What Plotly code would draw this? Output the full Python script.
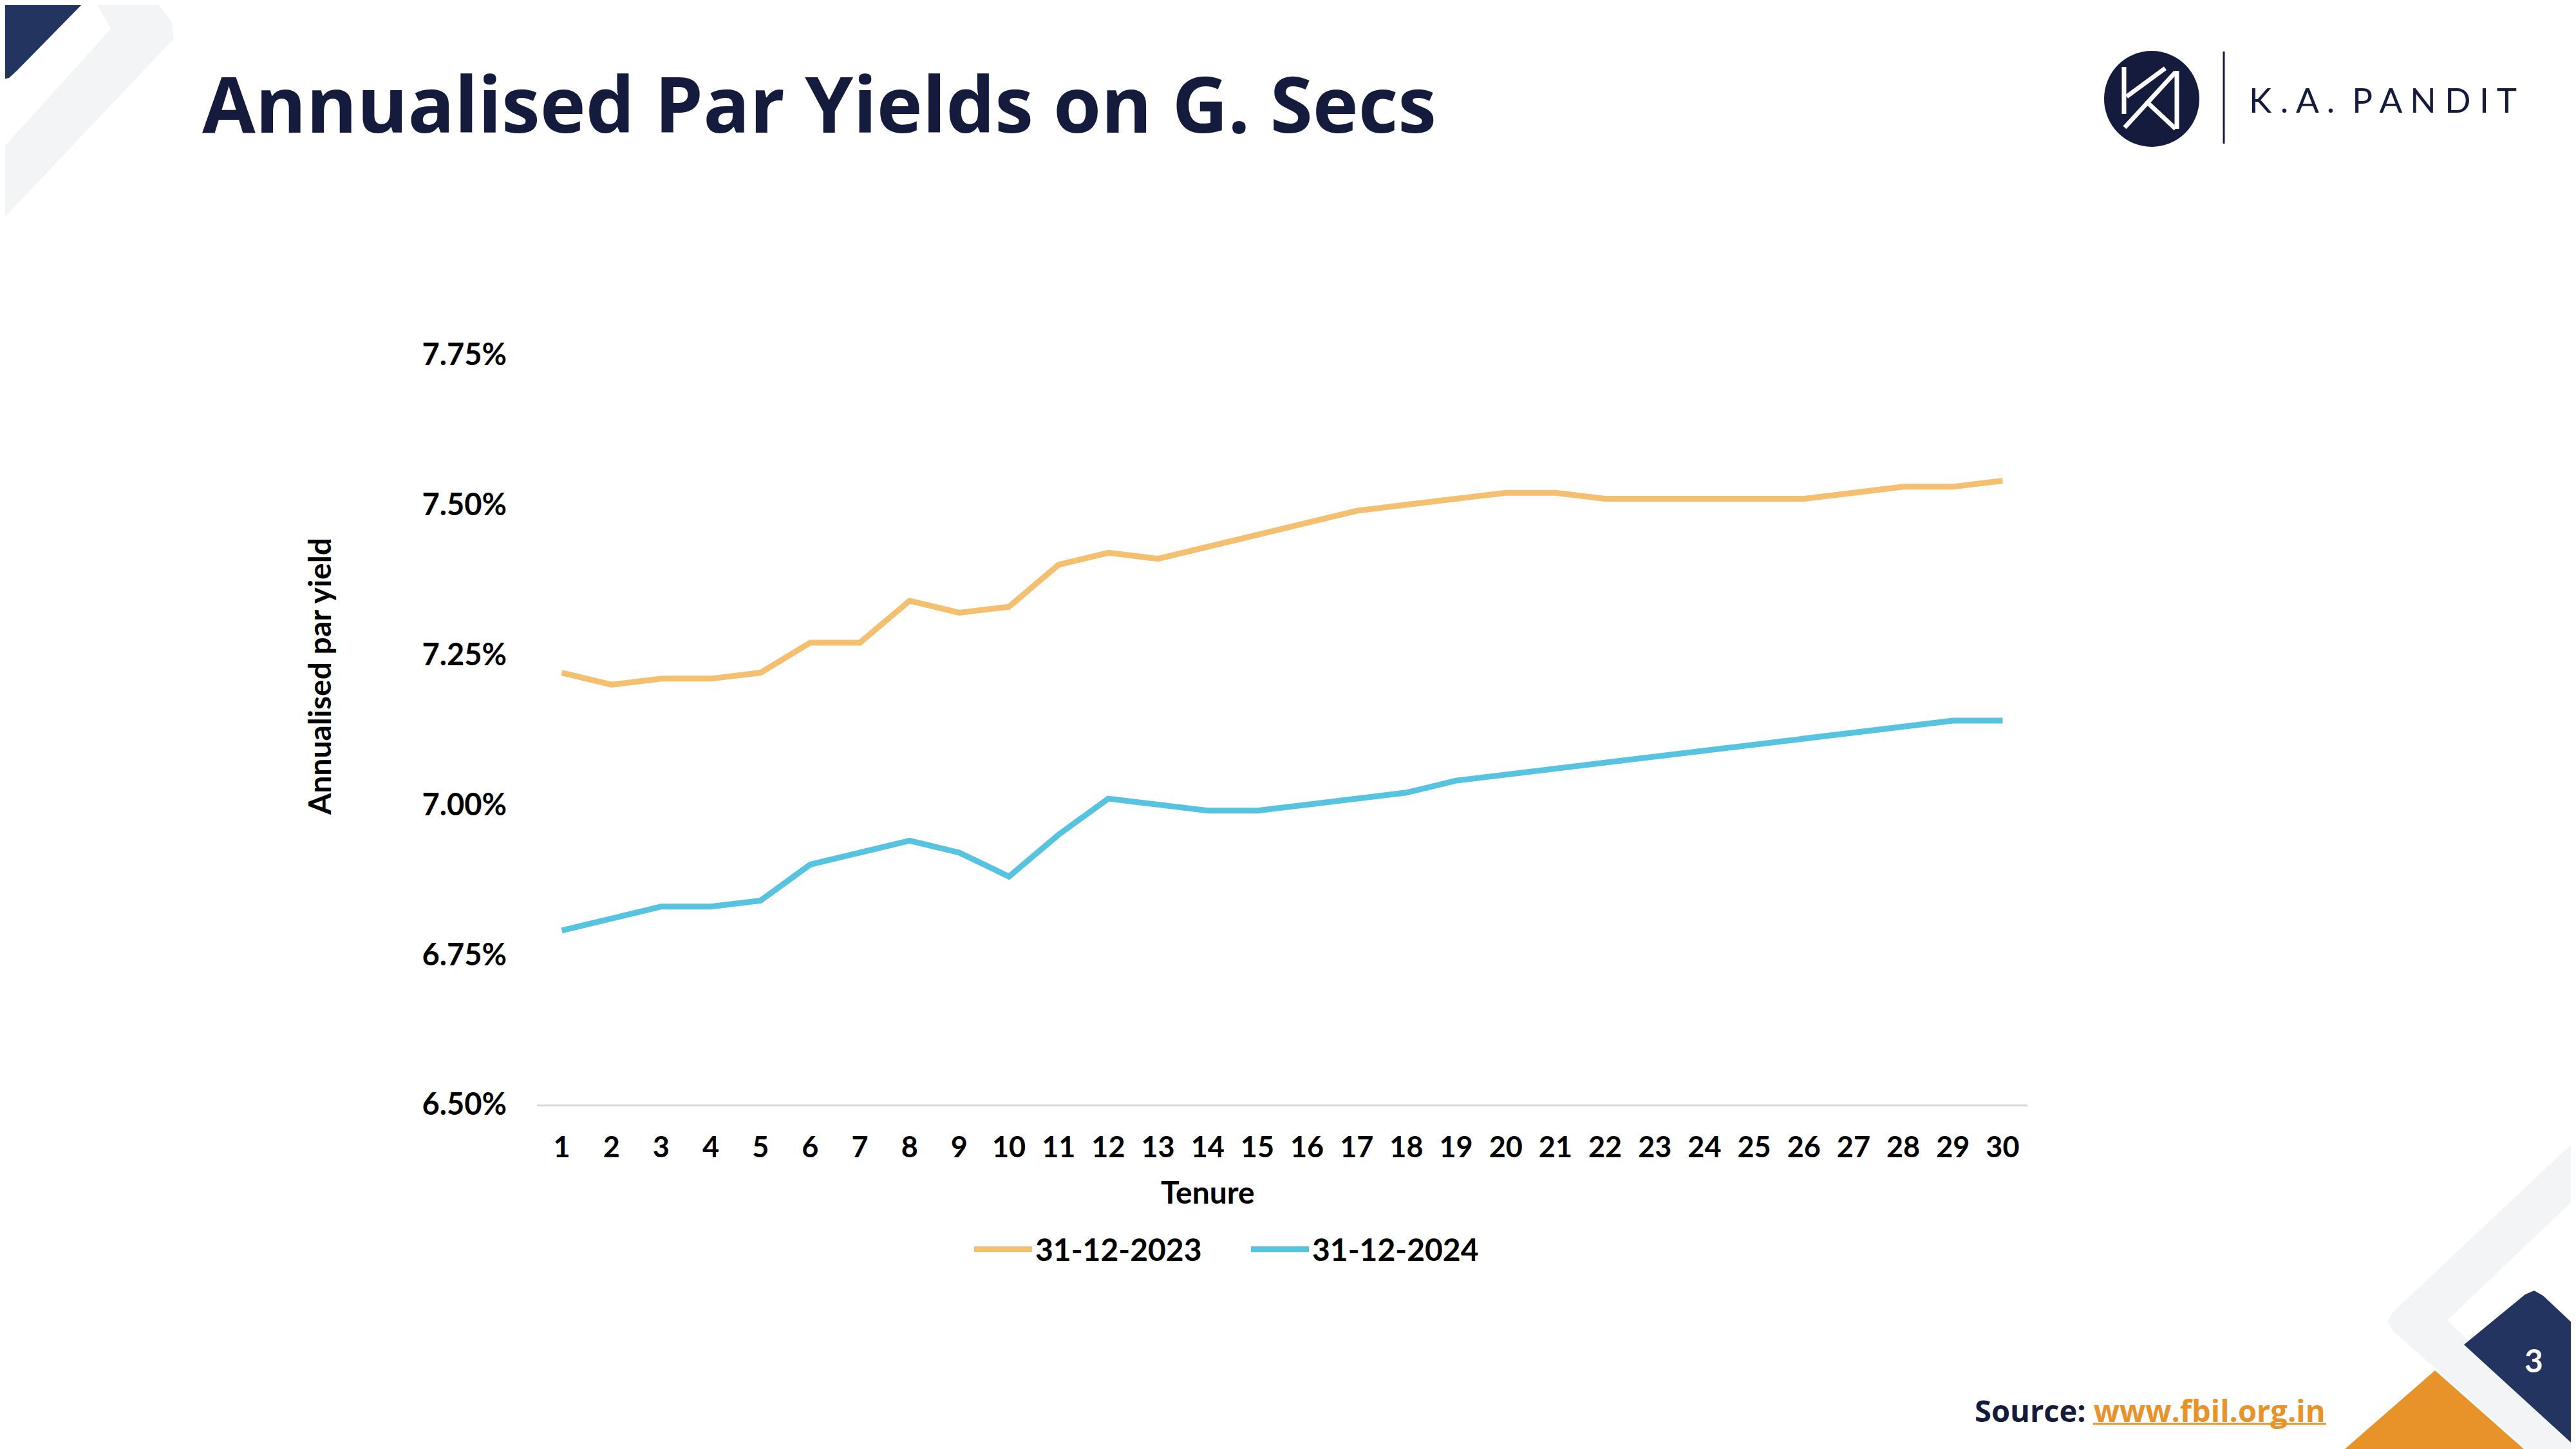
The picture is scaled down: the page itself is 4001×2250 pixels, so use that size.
import plotly.graph_objects as go

# data
tenure = list(range(1, 31))
yield_2023 = [7.22, 7.20, 7.21, 7.21, 7.22, 7.27, 7.27, 7.34, 7.32, 7.33,
              7.40, 7.42, 7.41, 7.43, 7.45, 7.47, 7.49, 7.50, 7.51, 7.52,
              7.52, 7.51, 7.51, 7.51, 7.51, 7.51, 7.52, 7.53, 7.53, 7.54]
yield_2024 = [6.79, 6.81, 6.83, 6.83, 6.84, 6.90, 6.92, 6.94, 6.92, 6.88,
              6.95, 7.01, 7.00, 6.99, 6.99, 7.00, 7.01, 7.02, 7.04, 7.05,
              7.06, 7.07, 7.08, 7.09, 7.10, 7.11, 7.12, 7.13, 7.14, 7.14]
series_names = ["31-12-2023", "31-12-2024"]
y_ticks = [6.50, 6.75, 7.00, 7.25, 7.50, 7.75]
y_labels = [f"{v:.2f}%" for v in y_ticks]

W, H = 4001, 2250
OFF = 8                              # page body margin
L, R, T, B = 834, 3149, 551, 1715    # plot area, page pixels

NAVY = "#141b3c"
BLUE_DARK = "#22345f"
ORANGE = "#e8922a"
GREY = "#f3f4f6"
FONT = "Lato"


def px(x):
    return (x - L) / (R - L)


def py(y):
    return (B - y) / (B - T)


def poly(points):
    return "M " + " L ".join(f"{px(x):.5f},{py(y):.5f}" for x, y in points) + " Z"


fig = go.Figure()
fig.add_trace(go.Scatter(x=tenure, y=yield_2023, name=series_names[0], mode="lines",
                         line=dict(color="#f4bf6e", width=9)))
fig.add_trace(go.Scatter(x=tenure, y=yield_2024, name=series_names[1], mode="lines",
                         line=dict(color="#56c3e0", width=9)))

# slide decoration
deco = [
    ([(0, 0), (134, 0), (26, 110), (14, 121), (0, 124)], BLUE_DARK),
    ([(147, 0), (240, 0), (266, 32), (270, 60), (0, 345), (0, 235), (172, 45)], GREY),
    ([(4001, 1770), (3718, 2036), (3708, 2052), (3716, 2066), (3923, 2250),
      (4001, 2250), (4001, 2243), (3801, 2050), (4001, 1860)], GREY),
    ([(3642, 2250), (3782, 2128), (3920, 2250)], ORANGE),
    ([(3827, 2088), (3922, 2010), (3936, 2004), (3950, 2012), (4001, 2060),
      (4001, 2247)], BLUE_DARK),
]
for pts, col in deco:
    fig.add_shape(type="path", xref="paper", yref="paper", path=poly(pts),
                  fillcolor=col, line=dict(width=0))

# logo
fig.add_shape(type="circle", xref="paper", yref="paper", x0=px(3268), x1=px(3416),
              y0=py(228), y1=py(79), fillcolor=NAVY, line=dict(width=0))
fig.add_shape(type="line", xref="paper", yref="paper", x0=px(3454), x1=px(3454),
              y0=py(223), y1=py(80), line=dict(color=NAVY, width=3))
for (x0, y0), (x1, y1) in [((3299, 104), (3299, 177)), ((3303, 150), (3363, 106)),
                           ((3379, 112), (3300, 198)), ((3333, 157), (3379, 200)),
                           ((3381, 110), (3381, 200))]:
    fig.add_shape(type="line", xref="paper", yref="paper", x0=px(x0), y0=py(y0),
                  x1=px(x1), y1=py(y1), line=dict(color="white", width=7))
# underline of the source link
fig.add_shape(type="line", xref="paper", yref="paper", x0=px(3251), x1=px(3613),
              y0=py(2211), y1=py(2211), line=dict(color=ORANGE, width=3))


def note(x, y, text, size, color="black", bold=True, family=FONT, xanchor="center", **kw):
    fig.add_annotation(x=px(x), y=py(y), xref="paper", yref="paper", text=text,
                       showarrow=False, xanchor=xanchor, yanchor="middle",
                       font=dict(family=family, size=size, color=color,
                                 weight="bold" if bold else "normal"), **kw)


note(1876, 1850, "Tenure", 48)
note(495, 1051, "Annualised par yield", 48, textangle=-90)
note(3491, 154, "K . A .  P A N D I T", 53, color=NAVY, bold=False, xanchor="left")
note(3935, 2112, "3", 50, color="white")
note(3065, 2190, f"<span style='color:{NAVY}'>Source: </span>"
                 f"<span style='color:{ORANGE}'>www.fbil.org.in</span>", 47,
     family="Open Sans", xanchor="left")

fig.update_layout(
    width=W, height=H,
    margin=dict(l=L - OFF, r=W - R + OFF, t=T - OFF, b=H - B + OFF),
    paper_bgcolor="white", plot_bgcolor="white",
    title=dict(text="Annualised Par Yields on G. Secs", xref="container", yref="container",
               x=(314 - OFF) / W, y=1 - (164 - OFF) / H, xanchor="left", yanchor="middle",
               font=dict(family="Open Sans", size=120, color=NAVY, weight="bold")),
    xaxis=dict(range=[0.5, 30.5], tickvals=tenure, showgrid=False, zeroline=False,
               showline=True, linecolor="#d9d9d9", linewidth=3, ticks="",
               ticklabelstandoff=25,
               tickfont=dict(family=FONT, size=45, color="black", weight="bold")),
    yaxis=dict(range=[6.5, 7.75], tickvals=y_ticks, ticktext=y_labels,
               showgrid=False, zeroline=False, showline=False, ticks="",
               ticklabelstandoff=46,
               tickfont=dict(family=FONT, size=47, color="black", weight="bold")),
    legend=dict(orientation="h", x=px(1938), y=py(1940), xanchor="center", yanchor="middle",
                itemwidth=90, entrywidth=325,
                font=dict(family=FONT, size=48, color="black", weight="bold"),
                bgcolor="rgba(0,0,0,0)"),
)

fig.write_html("out.html")
